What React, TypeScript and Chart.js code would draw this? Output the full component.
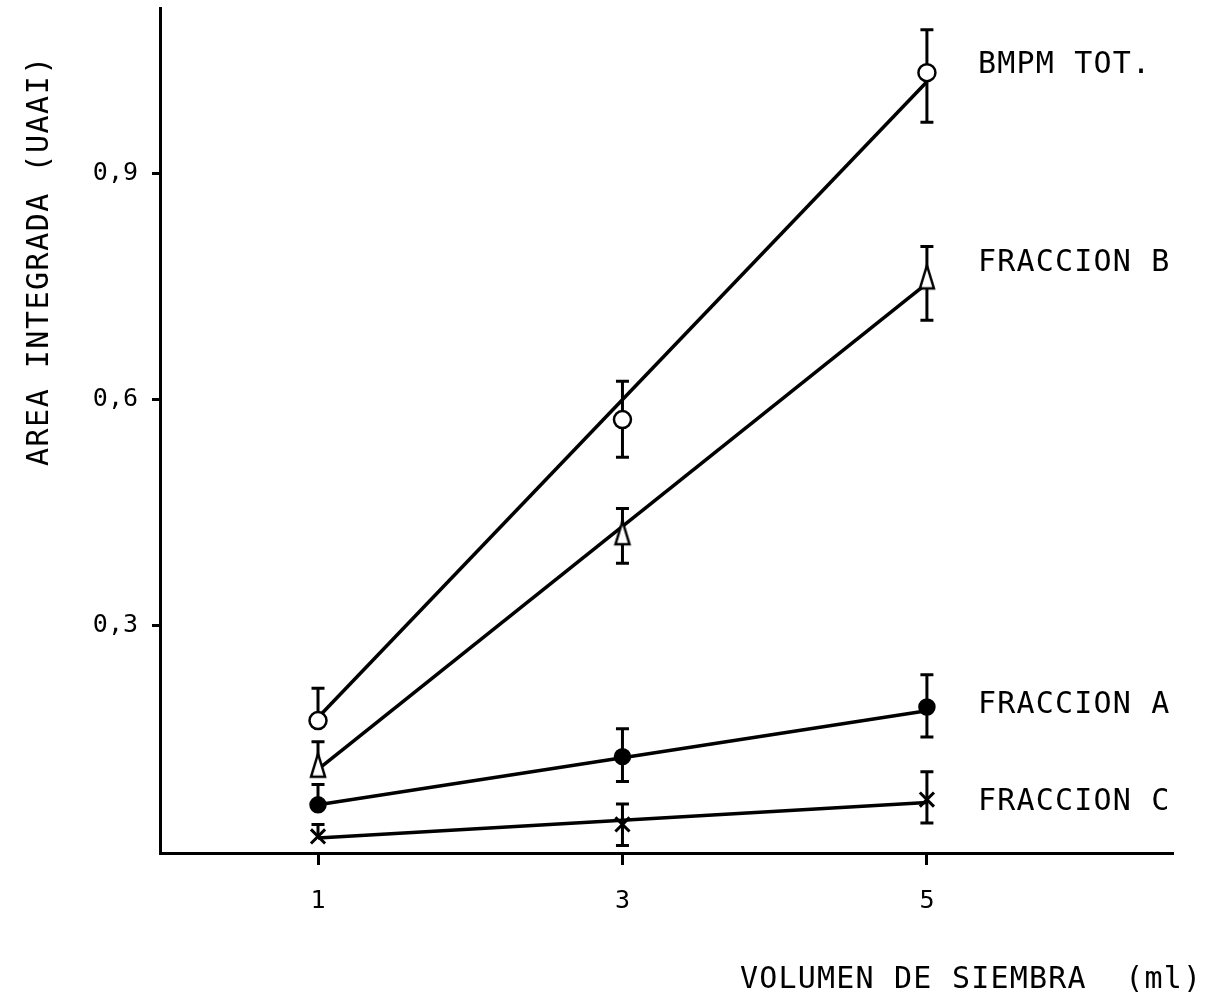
import { useEffect, useRef } from 'react';
import { Chart, registerables } from 'chart.js';

Chart.register(...registerables);

// Sowing volume (ml) on the x axis
const volumes = [1, 3, 5];
const xTickValues = [1, 3, 5];
const yTickValues = [0.3, 0.6, 0.9];
const yTickLabels = ['0,3', '0,6', '0,9'];

const seriesNames = ['BMPM TOT.', 'FRACCION B', 'FRACCION A', 'FRACCION C'];

// Integrated area (UAAI), mean values
const bmpmTot = [0.173, 0.573, 1.034];
const fraccionB = [0.113, 0.422, 0.762];
const fraccionA = [0.061, 0.125, 0.191];
const fraccionC = [0.019, 0.035, 0.068];

// Error bar limits (null = no lower bar drawn)
const bmpmTotHigh = [0.216, 0.624, 1.091];
const bmpmTotLow = [null, 0.523, 0.968];
const fraccionBHigh = [0.145, 0.455, 0.803];
const fraccionBLow = [null, 0.382, 0.705];
const fraccionAHigh = [0.088, 0.162, 0.234];
const fraccionALow = [null, 0.092, 0.151];
const fraccionCHigh = [0.035, 0.062, 0.105];
const fraccionCLow = [null, 0.007, 0.037];

// Regression lines between the first and last volume
const fitVolumes = [1, 5];
const bmpmTotFit = [0.177, 1.022];
const fraccionBFit = [0.108, 0.754];
const fraccionAFit = [0.061, 0.186];
const fraccionCFit = [0.017, 0.064];

// Value level at which each series name sits on the right
const nameLevels = [1.033, 0.771, 0.183, 0.054];

const FONT = '"DejaVu Sans Mono", monospace';

function makeTriangle(): HTMLCanvasElement {
  const c = document.createElement('canvas');
  c.width = 20;
  c.height = 30;
  const ctx = c.getContext('2d')!;
  ctx.lineWidth = 2.5;
  ctx.strokeStyle = '#000';
  ctx.fillStyle = '#fff';
  ctx.lineJoin = 'miter';
  ctx.beginPath();
  ctx.moveTo(10, 3);
  ctx.lineTo(17, 26);
  ctx.lineTo(3, 26);
  ctx.closePath();
  ctx.fill();
  ctx.stroke();
  return c;
}

export default function App() {
  const canvasRef = useRef<HTMLCanvasElement | null>(null);

  useEffect(() => {
    const canvas = canvasRef.current;
    if (!canvas) return;

    const means = [bmpmTot, fraccionB, fraccionA, fraccionC];
    const highs = [bmpmTotHigh, fraccionBHigh, fraccionAHigh, fraccionCHigh];
    const lows = [bmpmTotLow, fraccionBLow, fraccionALow, fraccionCLow];
    const fits = [bmpmTotFit, fraccionBFit, fraccionAFit, fraccionCFit];

    const triangle = makeTriangle();
    const markerStyles: any[] = ['circle', triangle, 'circle', 'crossRot'];
    const markerRadius = [8.5, 10, 7.5, 10];
    const markerFill = ['#fff', '#fff', '#000', '#000'];
    const markerBorder = [2.5, 2.5, 2.5, 3];

    const pointSets = means.map((vals, i) => ({
      type: 'scatter' as const,
      label: seriesNames[i],
      data: volumes.map((v, j) => ({ x: v, y: vals[j] })),
      showLine: false,
      pointStyle: markerStyles[i],
      pointRadius: markerRadius[i],
      pointBackgroundColor: markerFill[i],
      pointBorderColor: '#000',
      pointBorderWidth: markerBorder[i],
    }));

    const lineSets = fits.map((vals, i) => ({
      type: 'line' as const,
      label: seriesNames[i] + ' fit',
      data: fitVolumes.map((v, j) => ({ x: v, y: vals[j] })),
      borderColor: '#000',
      borderWidth: 3.5,
      pointRadius: 0,
      fill: false,
      tension: 0,
    }));

    const errorBars = {
      id: 'errorBars',
      beforeDatasetDraw(chart: any, args: any) {
        if (args.index !== pointSets.length - 1) return;
        const { ctx, scales } = chart;
        const xs = scales.x;
        const ys = scales.y;
        ctx.save();
        ctx.strokeStyle = '#000';
        ctx.lineWidth = 3;
        const cap = 6.5;
        means.forEach((vals, i) => {
          volumes.forEach((v, j) => {
            const px = xs.getPixelForValue(v);
            const top = ys.getPixelForValue(highs[i][j]);
            const lowVal = lows[i][j];
            const bottom = ys.getPixelForValue(lowVal == null ? vals[j] : lowVal);
            ctx.beginPath();
            ctx.moveTo(px, top);
            ctx.lineTo(px, bottom);
            ctx.moveTo(px - cap, top);
            ctx.lineTo(px + cap, top);
            if (lowVal != null) {
              ctx.moveTo(px - cap, bottom);
              ctx.lineTo(px + cap, bottom);
            }
            ctx.stroke();
          });
        });
        ctx.restore();
      },
    };

    const textLayer = {
      id: 'textLayer',
      afterDraw(chart: any) {
        const { ctx, scales } = chart;
        const ys = scales.y;
        ctx.save();
        ctx.fillStyle = '#000';
        ctx.font = `30px ${FONT}`;
        (ctx as any).letterSpacing = '1.2px';
        ctx.textAlign = 'left';
        ctx.textBaseline = 'alphabetic';
        seriesNames.forEach((name, i) => {
          ctx.fillText(name, 978, ys.getPixelForValue(nameLevels[i]));
        });
        ctx.fillText('VOLUMEN DE SIEMBRA  (ml)', 740, 988);
        (ctx as any).letterSpacing = '1.5px';
        ctx.translate(48, 466);
        ctx.rotate(-Math.PI / 2);
        ctx.fillText('AREA INTEGRADA (UAAI)', 0, 0);
        ctx.restore();
      },
    };

    const chart = new Chart(canvas, {
      data: { datasets: [...pointSets, ...lineSets] as any },
      options: {
        animation: false,
        responsive: false,
        events: [],
        layout: { autoPadding: false, padding: { top: 8, right: 45, left: 0, bottom: 0 } },
        plugins: {
          legend: { display: false },
          tooltip: { enabled: false },
        },
        scales: {
          x: {
            type: 'linear',
            min: -0.038,
            max: 6.61,
            afterBuildTicks(scale: any) {
              scale.ticks = xTickValues.map((v) => ({ value: v }));
            },
            afterFit(scale: any) {
              scale.height = 148;
              scale.paddingLeft = 0;
              scale.paddingRight = 0;
            },
            ticks: {
              color: '#000',
              font: { family: FONT, size: 25 },
              padding: 21,
              maxRotation: 0,
              callback: (v: any) => String(v),
            },
            grid: {
              display: true,
              drawOnChartArea: false,
              drawTicks: true,
              tickLength: 12,
              color: '#000',
              lineWidth: 3,
            },
            border: { display: true, color: '#000', width: 3 },
          },
          y: {
            type: 'linear',
            min: -0.003,
            max: 1.12,
            afterBuildTicks(scale: any) {
              scale.ticks = yTickValues.map((v) => ({ value: v }));
            },
            afterFit(scale: any) {
              scale.width = 160;
              scale.paddingTop = 0;
              scale.paddingBottom = 0;
            },
            ticks: {
              color: '#000',
              font: { family: FONT, size: 25 },
              padding: 14,
              callback: (v: any) => {
                const k = yTickValues.indexOf(Number(v));
                return k >= 0 ? yTickLabels[k] : '';
              },
            },
            grid: {
              display: true,
              drawOnChartArea: false,
              drawTicks: true,
              tickLength: 8,
              color: '#000',
              lineWidth: 3,
            },
            border: { display: true, color: '#000', width: 3 },
          },
        },
      },
      plugins: [errorBars, textLayer],
    });

    return () => chart.destroy();
  }, []);

  return (
    <div style={{ position: 'absolute', left: 0, top: 0, width: 1217, height: 1001, background: '#fff' }}>
      <canvas ref={canvasRef} width={1217} height={1001} style={{ display: 'block' }} />
    </div>
  );
}
